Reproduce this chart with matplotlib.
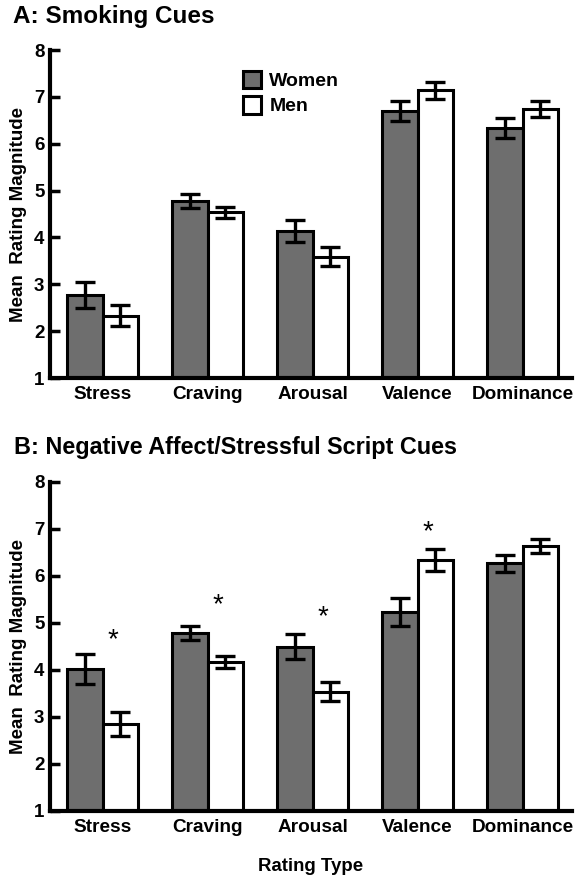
import numpy as np
import matplotlib.pyplot as plt

plt.rcParams['font.family'] = ['Liberation Sans', 'DejaVu Sans']
plt.rcParams['font.weight'] = 'bold'

# 数据
categories = ['Stress', 'Craving', 'Arousal', 'Valence', 'Dominance']

a_women = [2.77, 4.78, 4.14, 6.70, 6.34]
a_women_err = [0.27, 0.15, 0.24, 0.22, 0.21]
a_men = [2.33, 4.54, 3.59, 7.14, 6.74]
a_men_err = [0.22, 0.12, 0.21, 0.18, 0.18]

b_women = [4.01, 4.78, 4.49, 5.23, 6.26]
b_women_err = [0.32, 0.14, 0.26, 0.29, 0.18]
b_men = [2.84, 4.16, 3.53, 6.33, 6.64]
b_men_err = [0.26, 0.13, 0.20, 0.24, 0.15]

# 显著性星号 (类别索引, y值)
b_star_idx = [0, 1, 2, 3]
b_star_y = [4.62, 5.37, 5.11, 6.92]

yticks = [1, 2, 3, 4, 5, 6, 7, 8]


def draw_panel(ax, women, women_err, men, men_err):
    x = np.arange(len(categories))
    w = 0.335
    err_kw = dict(ecolor='black', elinewidth=2.4, capsize=7.5, capthick=2.4)
    bw = ax.bar(x - w / 2, np.array(women) - 1, w, bottom=1, color='#6e6e6e',
                edgecolor='black', linewidth=2.2, yerr=women_err,
                error_kw=err_kw, label='Women', zorder=2)
    bm = ax.bar(x + w / 2, np.array(men) - 1, w, bottom=1, color='white',
                edgecolor='black', linewidth=2.2, yerr=men_err,
                error_kw=err_kw, label='Men', zorder=2)
    ax.set_xlim(-0.5, 4.47)
    ax.set_ylim(1, 8)
    ax.set_yticks(yticks)
    ax.set_xticks(x)
    ax.set_xticklabels(categories, fontsize=13.7, fontweight='bold')
    ax.tick_params(axis='y', direction='in', length=7, width=2.5,
                   labelsize=13.5, pad=4)
    ax.tick_params(axis='x', length=0, pad=6)
    for lab in ax.get_yticklabels():
        lab.set_fontweight('bold')
    for s in ['top', 'right']:
        ax.spines[s].set_visible(False)
    for s in ['left', 'bottom']:
        ax.spines[s].set_linewidth(3)
    ax.set_ylabel('Mean  Rating Magnitude', fontsize=13.5, fontweight='bold',
                  labelpad=5)
    return bw, bm


fig = plt.figure(figsize=(5.83, 8.82), dpi=100)

# A: 吸烟线索
ax1 = fig.add_axes([0.0858, 0.5714, 0.8952, 0.3719])
bw, bm = draw_panel(ax1, a_women, a_women_err, a_men, a_men_err)
ax1.legend(handles=[bw, bm], loc='upper left', bbox_to_anchor=(0.355, 0.96),
           frameon=False, handlelength=0.9, handleheight=1.0,
           handletextpad=0.45, labelspacing=0.3, borderaxespad=0,
           prop={'weight': 'bold', 'size': 14})
fig.text(0.022, 0.981, 'A: Smoking Cues', fontsize=17.5, fontweight='bold',
         va='center', ha='left')

# B: 负性情绪/应激脚本线索
ax2 = fig.add_axes([0.0858, 0.0808, 0.8952, 0.3731])
draw_panel(ax2, b_women, b_women_err, b_men, b_men_err)
for i, yv in zip(b_star_idx, b_star_y):
    ax2.text(i + 0.1, yv, '*', ha='center', va='center', fontsize=20,
             fontweight='normal')
ax2.set_xlabel('Rating Type', fontsize=13.4, fontweight='bold', labelpad=16)
fig.text(0.024, 0.493, 'B: Negative Affect/Stressful Script Cues',
         fontsize=16.8, fontweight='bold', va='center', ha='left')

fig.savefig('out.png', dpi=100)
